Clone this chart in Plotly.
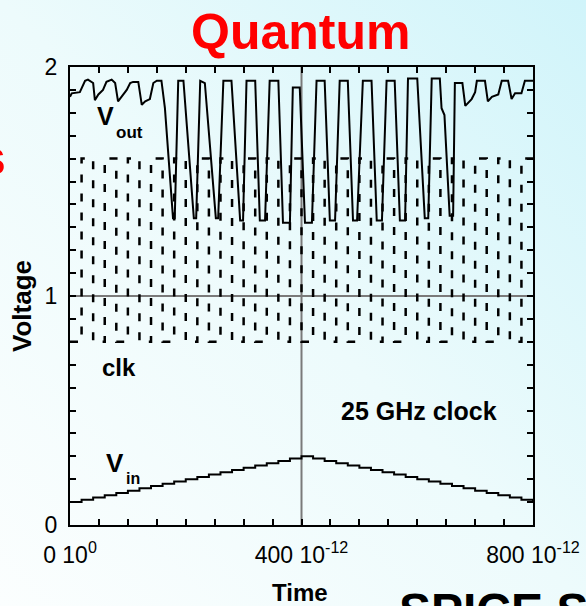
import base64
import plotly.graph_objects as go

# ---------------- data ----------------
vout_t = [0, 3, 17, 26, 31, 40, 43, 49, 57, 63, 72, 78, 83, 89, 98, 104, 109, 118, 124, 130,
          138, 144, 150, 158, 164, 178, 181, 187, 196, 214, 218, 225, 233, 252, 256, 265, 279,
          294, 299, 305, 320, 328, 337, 345, 360, 368, 380, 385, 397, 406, 418, 426, 440, 449,
          458, 466, 480, 489, 496, 506, 521, 530, 539, 547, 561, 570, 579, 584, 600, 613, 619,
          625, 639, 642, 647, 656, 662, 665, 678, 683, 694, 700, 703, 717, 722, 729, 740, 746,
          757, 763, 769, 780, 786, 800]
vout_v = [1.87, 1.885, 1.89, 1.94, 1.945, 1.93, 1.855, 1.88, 1.90, 1.935, 1.945, 1.93, 1.85,
          1.87, 1.90, 1.93, 1.935, 1.935, 1.835, 1.85, 1.86, 1.93, 1.94, 1.94, 1.82, 1.34, 1.34,
          1.94, 1.94, 1.34, 1.34, 1.94, 1.93, 1.34, 1.34, 1.94, 1.94, 1.33, 1.33, 1.94, 1.94,
          1.33, 1.33, 1.94, 1.94, 1.32, 1.32, 1.91, 1.91, 1.32, 1.32, 1.94, 1.94, 1.33, 1.33,
          1.94, 1.94, 1.33, 1.33, 1.94, 1.94, 1.33, 1.33, 1.94, 1.94, 1.33, 1.33, 1.95, 1.95,
          1.34, 1.34, 1.95, 1.95, 1.82, 1.79, 1.35, 1.35, 1.93, 1.93, 1.83, 1.86, 1.89, 1.94,
          1.94, 1.85, 1.87, 1.88, 1.94, 1.94, 1.86, 1.885, 1.885, 1.94, 1.94]

clk_t = [0, 20, 40, 60, 80, 100, 120, 140, 160, 180, 200, 220, 240, 260, 280, 300, 320, 340,
         360, 380, 400, 420, 440, 460, 480, 500, 520, 540, 560, 580, 600, 620, 640, 660, 680,
         700, 720, 740, 760, 780, 800]
clk_v = [0.8, 1.6, 0.8, 1.6, 0.8, 1.6, 0.8, 1.6, 0.8, 1.6, 0.8, 1.6, 0.8, 1.6, 0.8, 1.6, 0.8,
         1.6, 0.8, 1.6, 0.8, 1.6, 0.8, 1.6, 0.8, 1.6, 0.8, 1.6, 0.8, 1.6, 0.8, 1.6, 0.8, 1.6,
         0.8, 1.6, 0.8, 1.6, 0.8, 1.6, 1.6]

vin_t = [0, 20, 40, 60, 80, 100, 120, 140, 160, 180, 200, 220, 240, 260, 280, 300, 320, 340,
         360, 380, 400, 420, 440, 460, 480, 500, 520, 540, 560, 580, 600, 620, 640, 660, 680,
         700, 720, 740, 760, 780, 800]
vin_v = [0.100, 0.110, 0.120, 0.130, 0.140, 0.150, 0.160, 0.170, 0.180, 0.190, 0.200, 0.210,
         0.220, 0.230, 0.240, 0.250, 0.260, 0.270, 0.280, 0.290, 0.300, 0.290, 0.280, 0.270,
         0.260, 0.250, 0.240, 0.230, 0.220, 0.210, 0.200, 0.190, 0.180, 0.170, 0.160, 0.150,
         0.140, 0.130, 0.120, 0.110, 0.100]

x_tickvals = [0, 50, 100, 150, 200, 250, 300, 350, 400, 450, 500, 550, 600, 650, 700, 750, 800]
x_ticktext = ["0 10<sup>0</sup>", "", "", "", "", "", "", "", "400 10<sup>-12</sup>",
              "", "", "", "", "", "", "", "800 10<sup>-12</sup>"]
y_tickvals = [0, 0.1, 0.2, 0.3, 0.4, 0.5, 0.6, 0.7, 0.8, 0.9, 1.0, 1.1, 1.2, 1.3, 1.4, 1.5,
              1.6, 1.7, 1.8, 1.9, 2.0]
y_ticktext = ["0", "", "", "", "", "", "", "", "", "", "1", "", "", "", "", "", "", "", "",
              "", "2"]

# ---------------- layout geometry ----------------
W, H = 586, 606
ML, MR, MT, MB = 70, 53, 67, 81
PW = W - ML - MR
PH = H - MT - MB


def px(x):
    return (x - ML) / PW


def py(y):
    return (H - MB - y) / PH


FONT = "Liberation Sans, Arial, sans-serif"

fig = go.Figure()
fig.add_trace(go.Scatter(x=clk_t, y=clk_v, mode="lines", line_shape="hv",
                         line=dict(color="black", width=2.5, dash="8px,11px"),
                         hoverinfo="skip", showlegend=False))
fig.add_trace(go.Scatter(x=vin_t, y=vin_v, mode="lines", line_shape="hv",
                         line=dict(color="black", width=2),
                         hoverinfo="skip", showlegend=False))
fig.add_trace(go.Scatter(x=vout_t, y=vout_v, mode="lines",
                         line=dict(color="black", width=2),
                         hoverinfo="skip", showlegend=False))

svg = (f'<svg xmlns="http://www.w3.org/2000/svg" width="{W}" height="{H}" '
       f'viewBox="0 0 {W} {H}" preserveAspectRatio="none"><defs>'
       '<linearGradient id="g" x1="0" y1="1" x2="1" y2="0">'
       '<stop offset="0" stop-color="#fbfefe"/><stop offset="0.5" stop-color="#edfbfc"/>'
       '<stop offset="1" stop-color="#d0f4fa"/></linearGradient></defs>'
       f'<rect width="{W}" height="{H}" fill="url(#g)"/></svg>')
src = "data:image/svg+xml;base64," + base64.b64encode(svg.encode()).decode()

axis_common = dict(showline=True, linecolor="black", linewidth=2, mirror="ticks",
                   ticks="inside", ticklen=6, tickwidth=2, tickcolor="black",
                   showgrid=False, zeroline=False,
                   tickfont=dict(family=FONT, size=23, color="black"))

fig.update_layout(
    width=W, height=H,
    margin=dict(l=ML, r=MR, t=MT, b=MB, autoexpand=False),
    paper_bgcolor="#eefbfc",
    plot_bgcolor="rgba(0,0,0,0)",
    font=dict(family=FONT, color="black"),
    xaxis=dict(range=[0, 800], tickmode="array", tickvals=x_tickvals, ticktext=x_ticktext,
               ticklabelstandoff=8, **axis_common),
    yaxis=dict(range=[0, 2], tickmode="array", tickvals=y_tickvals, ticktext=y_ticktext,
               ticklabelstandoff=6, **axis_common),
    images=[dict(source=src, xref="paper", yref="paper", x=px(0), y=py(0),
                 sizex=W / PW, sizey=H / PH, xanchor="left", yanchor="top",
                 sizing="stretch", layer="below")],
    shapes=[
        dict(type="line", xref="x", yref="y", x0=400, x1=400, y0=0, y1=2,
             line=dict(color="#7a7a7a", width=2), layer="below"),
        dict(type="line", xref="x", yref="y", x0=0, x1=800, y0=1, y1=1,
             line=dict(color="#7a7a7a", width=2), layer="below"),
    ],
)


def ann(text, x, y, size, color="black", xanchor="left", yanchor="middle", angle=0):
    fig.add_annotation(text=text, x=px(x), y=py(y), xref="paper", yref="paper",
                       showarrow=False, xanchor=xanchor, yanchor=yanchor, textangle=angle,
                       font=dict(family=FONT, size=size, color=color), borderpad=0)


ann("<b>Quantum</b>", 300, 32, 50, color="#ff0000", xanchor="center")
ann("<b>s</b>", 7, 158, 50, color="#ff0000", xanchor="right")
ann("<b>SPICE S</b>", 398, 583, 48, yanchor="top")
ann("<b>Voltage</b>", 22, 306, 26, xanchor="center", angle=-90)
ann("<b>Time</b>", 300, 592, 24, xanchor="center")
ann("<b>V</b>", 96, 116, 25)
ann("<b>out</b>", 115, 132.5, 17)
ann("<b>V</b>", 105, 463, 26)
ann("<b>in</b>", 125, 478.5, 16)
ann("<b>clk</b>", 101, 367, 24)
ann("<b>25 GHz clock</b>", 340, 411.3, 25)

fig.write_html("out.html")
